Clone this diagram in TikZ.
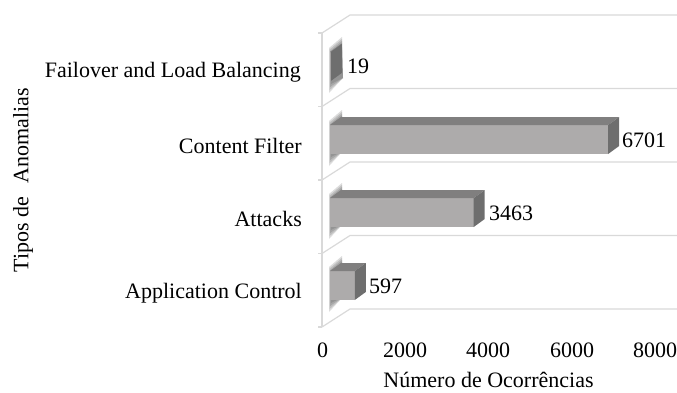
\documentclass[tikz,border=0pt]{standalone}
\usepackage{fontspec}
\setmainfont{Liberation Serif}
\definecolor{gridgray}{RGB}{217,217,217}
\definecolor{barfrontc}{RGB}{173,171,171}
\definecolor{bartopc}{RGB}{128,127,127}
\definecolor{barsidec}{RGB}{110,110,110}
\definecolor{shadowc}{RGB}{60,60,60}
\tikzset{
  wall/.style={draw=gridgray, line width=1.2pt},
  barfront/.style={fill=barfrontc},
  bartop/.style={fill=bartopc},
  barside/.style={fill=barsidec},
  catlabel/.style={anchor=east, inner sep=0pt},
  vallabel/.style={anchor=west, inner sep=0pt},
  ticklabel/.style={anchor=center, inner sep=0pt},
}
% #1 = top edge of the front face, #2 = value
\newcommand{\drawbarbox}[2]{%
  \pgfmathsetmacro{\xe}{330+0.0415*#2}%
  \foreach \k in {0,1,2,3}{%
    \fill[shadowc, opacity=0.18]
      (329+\k*0.6,#1-4+\k*1.5) -- (342,#1-15+\k*2) -- (343,#1+26)
      -- (329+\k*0.6,#1+41-\k*3) -- cycle;
  }%
  \fill[barfront] (330,#1) rectangle (\xe,#1+29);
  \fill[bartop] (330,#1) -- (341,#1-8) -- (\xe+11,#1-8) -- (\xe,#1) -- cycle;
  \fill[barside] (\xe,#1) -- (\xe+11,#1-8) -- (\xe+11,#1+21) -- (\xe,#1+29) -- cycle;
}
\begin{document}
\begin{tikzpicture}[x=1pt, y=-1pt, font=\fontsize{22}{26}\selectfont]
\useasboundingbox (0,0) rectangle (677,392);

% floor and dividers of the 3D wall
\foreach \yf in {33,106.5,180,253.5,327}{
  \draw[wall] (322,\yf) -- (350,\yf-18) -- (677,\yf-18);
  \draw[wall] (318,\yf) -- (322,\yf);
}
\draw[wall] (322,33) -- (322,327);

% bars
\drawbarbox{52}{19}
\drawbarbox{125}{6701}
\drawbarbox{198}{3463}
\drawbarbox{271}{597}

% value labels
\node[vallabel] (v19)   at (347,66)  {19};
\node[vallabel] (v6701) at (622,140) {6701};
\node[vallabel] (v3463) at (489,213) {3463};
\node[vallabel] (v597)  at (369,286) {597};

% category labels
\node[catlabel] (cfail) at (301,72)  {Failover and Load Balancing};
\node[catlabel] (ccont) at (302,146) {Content Filter};
\node[catlabel] (catt)  at (302,219) {Attacks};
\node[catlabel] (capp)  at (302,293) {Application Control};

% value axis
\node[ticklabel] (t0)    at (322.5,350) {0};
\node[ticklabel] (t2000) at (405,350) {2000};
\node[ticklabel] (t4000) at (488,350) {4000};
\node[ticklabel] (t6000) at (572,350) {6000};
\node[ticklabel] (t8000) at (655,350) {8000};

% axis titles
\node[ticklabel] (xtitle) at (488.5,379.5) {Número de Ocorrências};
\node[ticklabel, rotate=90] (ytitle) at (23,180) {Tipos de\hspace{0.6em}Anomalias};
\end{tikzpicture}
\end{document}
